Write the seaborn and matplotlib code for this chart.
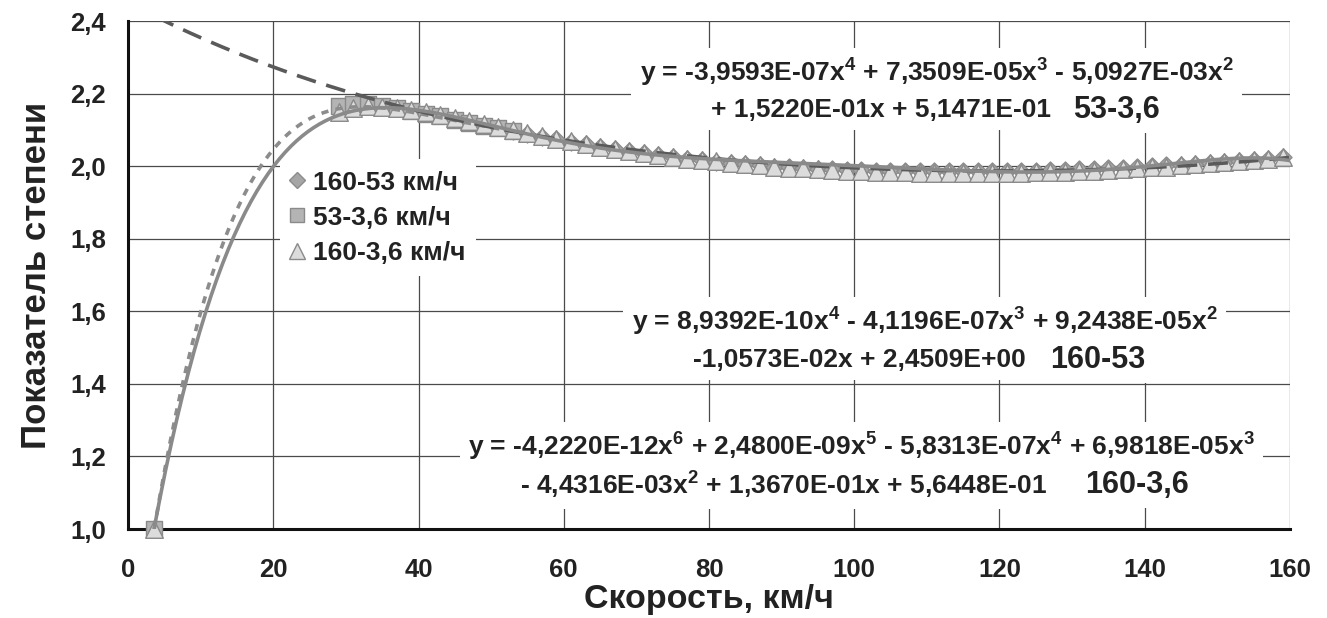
import matplotlib
matplotlib.use("Agg")
import matplotlib.pyplot as plt
from matplotlib.lines import Line2D
from matplotlib.ticker import FuncFormatter
import numpy as np
import pandas as pd
import seaborn as sns

speed_160_36 = [3.6,
                29, 31, 33, 35, 37, 39, 41, 43, 45, 47,
                49, 51, 53, 55, 57, 59, 61, 63, 65, 67,
                69, 71, 73, 75, 77, 79, 81, 83, 85, 87,
                89, 91, 93, 95, 97, 99, 101, 103, 105, 107,
                109, 111, 113, 115, 117, 119, 121, 123, 125, 127,
                129, 131, 133, 135, 137, 139, 141, 143, 145, 147,
                149, 151, 153, 155, 157, 159]
power_160_36 = [1.000,
                2.150, 2.160, 2.165, 2.163, 2.160, 2.155, 2.148, 2.140, 2.133, 2.125,
                2.117, 2.108, 2.100, 2.092, 2.083, 2.075, 2.068, 2.061, 2.054, 2.048,
                2.042, 2.036, 2.031, 2.026, 2.021, 2.017, 2.013, 2.009, 2.005, 2.002,
                1.999, 1.996, 1.994, 1.991, 1.989, 1.987, 1.986, 1.985, 1.984, 1.983,
                1.982, 1.982, 1.981, 1.981, 1.981, 1.981, 1.981, 1.982, 1.983, 1.984,
                1.985, 1.986, 1.988, 1.990, 1.992, 1.994, 1.997, 1.999, 2.002, 2.005,
                2.008, 2.011, 2.014, 2.017, 2.020, 2.024]

speed_53_36 = [3.6, 29, 31, 33, 35, 37, 39, 41, 43, 45, 47, 49, 51, 53]
power_53_36 = [1.000, 2.165, 2.170, 2.170, 2.165, 2.160, 2.152, 2.145, 2.137,
               2.128, 2.120, 2.112, 2.104, 2.096]

speed_160_53 = [53, 55, 57, 59, 61, 63, 65, 67, 69, 71,
                73, 75, 77, 79, 81, 83, 85, 87, 89, 91,
                93, 95, 97, 99, 101, 103, 105, 107, 109, 111,
                113, 115, 117, 119, 121, 123, 125, 127, 129, 131,
                133, 135, 137, 139, 141, 143, 145, 147, 149, 151,
                153, 155, 157, 159]
power_160_53 = [2.097, 2.089, 2.081, 2.074, 2.067, 2.060, 2.053, 2.047, 2.041, 2.035,
                2.030, 2.025, 2.020, 2.016, 2.012, 2.008, 2.005, 2.002, 1.999, 1.997,
                1.995, 1.993, 1.991, 1.990, 1.989, 1.988, 1.987, 1.987, 1.986, 1.986,
                1.986, 1.986, 1.986, 1.986, 1.987, 1.987, 1.988, 1.989, 1.990, 1.991,
                1.992, 1.994, 1.996, 1.998, 2.000, 2.002, 2.004, 2.007, 2.009, 2.012,
                2.015, 2.018, 2.021, 2.024]

# trendline coefficients as printed on the chart (highest power first)
coef_53_36 = [-3.9593e-07, 7.3509e-05, -5.0927e-03, 1.5220e-01, 5.1471e-01]
coef_160_53 = [8.9392e-10, -4.1196e-07, 9.2438e-05, -1.0573e-02, 2.4509e+00]
coef_160_36 = [-4.2220e-12, 2.4800e-09, -5.8313e-07, 6.9818e-05,
               -4.4316e-03, 1.3670e-01, 5.6448e-01]

x_ticks = [0, 20, 40, 60, 80, 100, 120, 140, 160]
y_ticks = [1.0, 1.2, 1.4, 1.6, 1.8, 2.0, 2.2, 2.4]

sns.set_style("white")
plt.rcParams["font.family"] = ["Liberation Sans", "DejaVu Sans"]
plt.rcParams["font.weight"] = "bold"
plt.rcParams["mathtext.fontset"] = "custom"
plt.rcParams["mathtext.rm"] = "Liberation Sans:bold"
plt.rcParams["mathtext.it"] = "Liberation Sans:bold"
plt.rcParams["mathtext.bf"] = "Liberation Sans:bold"

fig = plt.figure(figsize=(13.27, 6.18), dpi=100)
ax = fig.add_axes([0.0965, 0.144, 0.8755, 0.822])

ax.set_xlim(0, 160)
ax.set_ylim(1.0, 2.4)
ax.set_xticks(x_ticks)
ax.set_yticks(y_ticks)
ax.grid(True, color="#4a4a4a", linewidth=0.9, zorder=0)
ax.set_axisbelow(True)

# markers
df_a = pd.DataFrame({"v": speed_160_53, "n": power_160_53})
df_b = pd.DataFrame({"v": speed_53_36, "n": power_53_36})
df_c = pd.DataFrame({"v": speed_160_36, "n": power_160_36})
sns.scatterplot(data=df_a, x="v", y="n", marker="D", s=75, color="#a6a6a6",
                edgecolor="#8c8c8c", linewidth=1.0, ax=ax, zorder=3, clip_on=False)
sns.scatterplot(data=df_b, x="v", y="n", marker="s", s=120, color="#b4b4b4",
                edgecolor="#8a8a8a", linewidth=1.0, ax=ax, zorder=3, clip_on=False)
sns.scatterplot(data=df_c, x="v", y="n", marker="^", s=160, color="#dcdcdc",
                edgecolor="#8a8a8a", linewidth=1.0, ax=ax, zorder=4, clip_on=False)

# trendlines
x_36_53 = np.linspace(speed_53_36[0], speed_53_36[-1], 200)
x_0_160 = np.linspace(0, 160, 300)
x_36_160 = np.linspace(speed_160_36[0], 160, 400)
sns.lineplot(x=x_36_53, y=np.polyval(coef_53_36, x_36_53), color="#8c8c8c",
             linewidth=2.6, linestyle=(0, (2.0, 2.0)), ax=ax, zorder=5)
sns.lineplot(x=x_0_160, y=np.polyval(coef_160_53, x_0_160), color="#5a5a5a",
             linewidth=2.6, linestyle=(0, (5.5, 3.0)), ax=ax, zorder=5)
sns.lineplot(x=x_36_160, y=np.polyval(coef_160_36, x_36_160), color="#8a8a8a",
             linewidth=2.6, ax=ax, zorder=6)

for side in ["top", "right"]:
    ax.spines[side].set_visible(False)
for side in ["left", "bottom"]:
    ax.spines[side].set_color("#111111")
    ax.spines[side].set_linewidth(2.2)

ax.yaxis.set_major_formatter(FuncFormatter(lambda v, p: f"{v:.1f}".replace(".", ",")))
ax.tick_params(axis="both", length=0, labelsize=18.5, colors="#222222")
ax.tick_params(axis="x", pad=21)
ax.tick_params(axis="y", pad=16)
for lab in ax.get_xticklabels() + ax.get_yticklabels():
    lab.set_fontweight("bold")

ax.set_xlabel("Скорость, км/ч", fontsize=24.5, fontweight="bold", color="#222222", labelpad=1)
ax.set_ylabel("Показатель степени", fontsize=25, fontweight="bold", color="#222222", labelpad=12)

handles = [
    Line2D([], [], linestyle="none", marker="D", markersize=8, color="#a6a6a6",
           markeredgecolor="#8c8c8c"),
    Line2D([], [], linestyle="none", marker="s", markersize=10, color="#b4b4b4",
           markeredgecolor="#8a8a8a"),
    Line2D([], [], linestyle="none", marker="^", markersize=11, color="#dcdcdc",
           markeredgecolor="#8a8a8a"),
]
leg = ax.legend(handles, ["160-53 км/ч", "53-3,6 км/ч", "160-3,6 км/ч"],
                loc="upper left", bbox_to_anchor=(0.1308, 0.7274), borderaxespad=0,
                fontsize=19, frameon=True, facecolor="white", edgecolor="none",
                framealpha=1, borderpad=0.4, labelspacing=0.44, handlelength=0.5,
                handletextpad=0.35)
leg.set_zorder(7)
for t in leg.get_texts():
    t.set_fontweight("bold")
    t.set_color("#222222")

box = dict(facecolor="white", edgecolor="none", pad=6)
eq_size = 19
name_size = 22
txt = dict(transform=ax.transAxes, ha="left", va="center", fontweight="bold",
           color="#222222", zorder=8, bbox=box)

ax.text(0.4406, 0.8976, "y = -3,9593E-07x$^4$ + 7,3509E-05x$^3$ - 5,0927E-03x$^2$",
        fontsize=eq_size, **txt)
ax.text(0.5017, 0.8248, "+ 1,5220E-01x + 5,1471E-01", fontsize=eq_size, **txt)
ax.text(0.8133, 0.8248, "53-3,6", fontsize=name_size, **txt)

ax.text(0.4337, 0.4075, "y = 8,9392E-10x$^4$ - 4,1196E-07x$^3$ + 9,2438E-05x$^2$",
        fontsize=eq_size, **txt)
ax.text(0.4862, 0.3327, "-1,0573E-02x + 2,4509E+00", fontsize=eq_size, **txt)
ax.text(0.7935, 0.3327, "160-53", fontsize=name_size, **txt)

ax.text(0.2926, 0.1614,
        "y = -4,2220E-12x$^6$ + 2,4800E-09x$^5$ - 5,8313E-07x$^4$ + 6,9818E-05x$^3$",
        fontsize=eq_size, **txt)
ax.text(0.3373, 0.0866, "- 4,4316E-03x$^2$ + 1,3670E-01x + 5,6448E-01",
        fontsize=eq_size, **txt)
ax.text(0.8236, 0.0866, "160-3,6", fontsize=name_size, **txt)

fig.savefig("out.png", dpi=100)
